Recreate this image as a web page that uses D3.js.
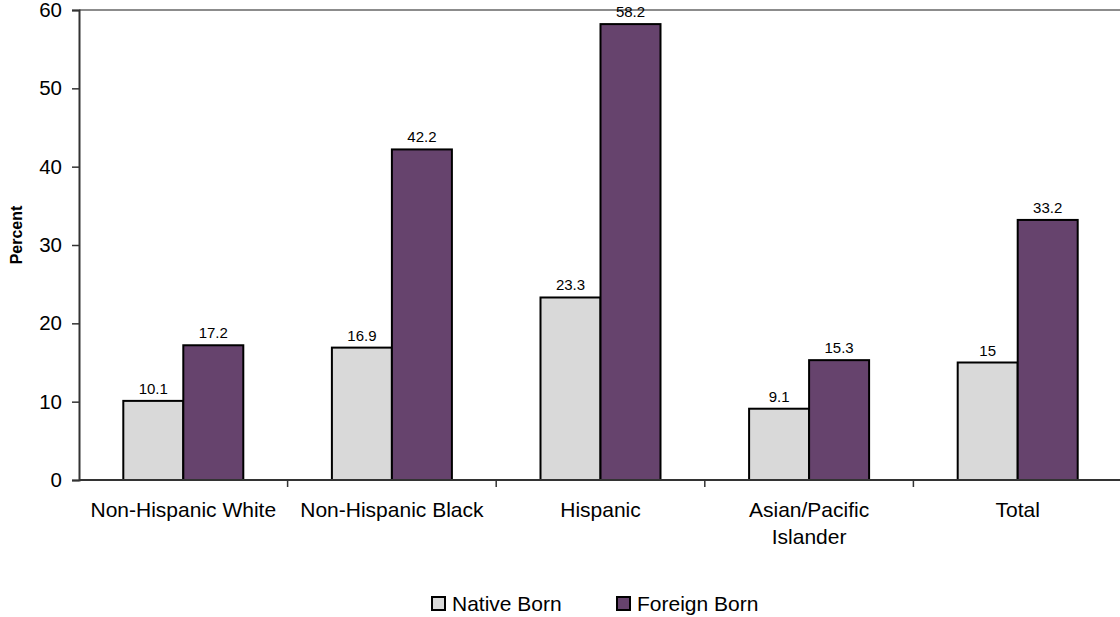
<!DOCTYPE html>
<html><head><meta charset="utf-8">
<script src="https://cdn.jsdelivr.net/npm/d3@7"></script>
<style>body{margin:0;background:#fff}svg{display:block;font-family:"Liberation Sans",Arial,sans-serif}</style>
</head><body><svg id="c" width="1120" height="617"></svg>
<script>
const categories = ["Non-Hispanic White","Non-Hispanic Black","Hispanic","Asian/Pacific Islander","Total"];
const categoryLines = [["Non-Hispanic White"],["Non-Hispanic Black"],["Hispanic"],["Asian/Pacific","Islander"],["Total"]];
const seriesNames = ["Native Born","Foreign Born"];
const nativeBorn = [10.1,16.9,23.3,9.1,15];
const foreignBorn = [17.2,42.2,58.2,15.3,33.2];
const yTicks = [0,10,20,30,40,50,60];
const colors = ["#d9d9d9","#66436d"];

const svg = d3.select("#c");
const mLeft = 79, mTop = 10, mBottom = 480, mRight = 1122;
const x = d3.scaleBand().domain(categories).range([mLeft, mRight]).paddingInner(0).paddingOuter(0);
const y = d3.scaleLinear().domain([0,60]).range([mBottom, mTop]);
const barW = 60;

// top gridline
svg.append("line").attr("x1",mLeft).attr("x2",1120).attr("y1",y(60)).attr("y2",y(60)).attr("stroke","#8c8c8c").attr("stroke-width",2);

const series = [nativeBorn, foreignBorn];
categories.forEach((c,i)=>{
  const cx = x(c) + x.bandwidth()/2;
  series.forEach((s,j)=>{
    const x0 = cx - barW + j*barW;
    svg.append("rect").attr("x",x0).attr("y",y(s[i])).attr("width",barW).attr("height",y(0)-y(s[i]))
      .attr("fill",colors[j]).attr("stroke","#000").attr("stroke-width",2);
    svg.append("text").attr("x",x0+barW/2).attr("y",y(s[i])-7).attr("text-anchor","middle")
      .attr("font-size",15).attr("fill","#000").text(s[i]);
  });
});

// y axis
const ya = svg.append("g").attr("transform",`translate(${mLeft},0)`)
  .call(d3.axisLeft(y).tickValues(yTicks).tickSize(7).tickPadding(10));
ya.select(".domain").attr("stroke","#333").attr("stroke-width",2);
ya.selectAll(".tick line").attr("stroke","#333").attr("stroke-width",1.5);
ya.selectAll(".tick text").attr("font-size",20.5).attr("fill","#000").attr("font-family","Liberation Sans, Arial, sans-serif");

// x axis
const xa = svg.append("g").attr("transform",`translate(0,${mBottom})`)
  .call(d3.axisBottom(x).tickValues([]).tickSizeOuter(0));
xa.select(".domain").attr("stroke","#333").attr("stroke-width",2).attr("d",`M${mLeft},0H1120`);
categories.forEach((c,i)=>{
  const xx = x(c);
  if(i>0) svg.append("line").attr("x1",xx).attr("x2",xx).attr("y1",mBottom).attr("y2",mBottom+7).attr("stroke","#333").attr("stroke-width",1.5);
  const t = svg.append("text").attr("x",xx+x.bandwidth()/2).attr("y",517).attr("text-anchor","middle").attr("font-size",21).attr("fill","#000");
  categoryLines[i].forEach((ln,k)=>t.append("tspan").attr("x",xx+x.bandwidth()/2).attr("dy",k?27:0).text(ln));
});

// y label
svg.append("text").attr("transform","translate(22,235) rotate(-90)").attr("text-anchor","middle")
  .attr("font-size",16).attr("font-weight","bold").text("Percent");

// legend
const lx = [432,617];
seriesNames.forEach((n,j)=>{
  svg.append("rect").attr("x",lx[j]).attr("y",597).attr("width",13).attr("height",13)
    .attr("fill",colors[j]).attr("stroke","#000").attr("stroke-width",2);
  svg.append("text").attr("x",lx[j]+20).attr("y",611).attr("font-size",21).text(n);
});
</script></body></html>
